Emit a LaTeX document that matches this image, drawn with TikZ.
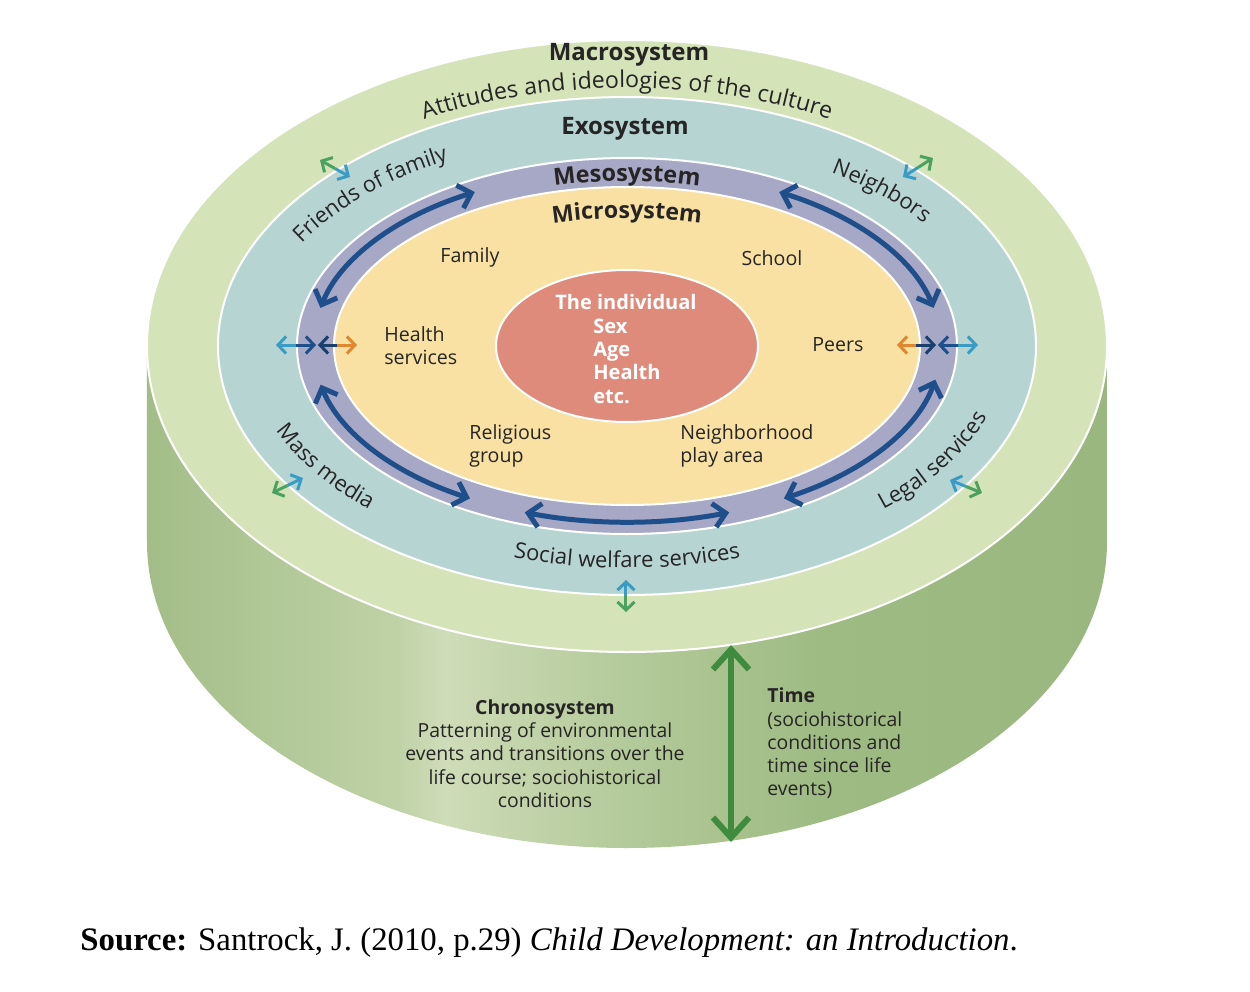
\documentclass[tikz,border=0pt]{standalone}
\usepackage{fontspec}
\setmainfont{Open Sans}
\newfontfamily\srcfont{Liberation Serif}
\usetikzlibrary{arrows.meta,decorations.text}
\definecolor{macroc}{HTML}{D5E3B9}
\definecolor{exoc}{HTML}{B6D5D2}
\definecolor{mesoc}{HTML}{A6A8C6}
\definecolor{microc}{HTML}{F8E1A2}
\definecolor{indivc}{HTML}{DF8B7B}
\definecolor{textc}{HTML}{262424}
\definecolor{arrowblue}{HTML}{1E4F8A}
\definecolor{cyanc}{HTML}{3A9CC5}
\definecolor{greenc}{HTML}{4BA15E}
\definecolor{orangec}{HTML}{E0872F}
\definecolor{chronoc}{HTML}{3F8B3F}
\definecolor{sA}{HTML}{A3BD88}
\definecolor{sB}{HTML}{BFD2A6}
\definecolor{sL}{HTML}{CFDCB9}
\definecolor{sLL}{HTML}{C8D8B1}
\definecolor{sC}{HTML}{B3CA9A}
\definecolor{sD}{HTML}{9FBB84}
\definecolor{sE}{HTML}{99B77E}
\pgfdeclarehorizontalshading{cylside}{100bp}{color(0bp)=(sA); color(25bp)=(sA); color(38bp)=(sB); color(40.5bp)=(sL); color(42.5bp)=(sLL); color(50bp)=(sC); color(60bp)=(sD); color(75bp)=(sE); color(100bp)=(sE)}
\begin{document}
\begin{tikzpicture}[x=0.5pt,y=0.5pt,
  ring/.style={draw=white,line width=1pt},
  title/.style={text=textc,font=\bfseries\fontsize{12}{14}\selectfont,inner sep=0pt},
  lbl/.style={text=textc,font=\fontsize{9.8}{11.5}\selectfont,inner sep=0pt},
  indivtxt/.style={text=white,font=\bfseries\fontsize{10}{11.7}\selectfont,inner sep=0pt},
  chrono/.style={text=textc,font=\fontsize{9.7}{11.65}\selectfont,inner sep=0pt},
  mesoarrow/.style={draw=arrowblue,line width=2.5pt,{Straight Barb[length=6pt,width=12pt]}-{Straight Barb[length=6pt,width=12pt]}},
  smallarrow/.style={line width=1.5pt,-{Straight Barb[length=4pt,width=8.5pt]}},
  bigarrow/.style={draw=chronoc,line width=3pt,{Straight Barb[length=10pt,width=18pt]}-{Straight Barb[length=10pt,width=18pt]}}
]
\useasboundingbox (-627,-646) rectangle (623,346);
\fill[white] (-627,-646) rectangle (623,346);
% cylinder side
\shade[shading=cylside] (-480,0) -- (-480,-196) arc[start angle=180,end angle=360,x radius=480,y radius=306] -- (480,0) -- cycle;
% rings
\filldraw[ring,fill=macroc] (0,0) ellipse[x radius=480,y radius=306];
\filldraw[ring,fill=exoc] (0,0) ellipse[x radius=409,y radius=249];
\filldraw[ring,fill=mesoc] (0,0) ellipse[x radius=330,y radius=188];
\filldraw[ring,fill=microc] (0,0) ellipse[x radius=293,y radius=159];
\filldraw[ring,fill=indivc] (0,0) ellipse[x radius=131,y radius=76];
% titles
\node[title] (macro) at (2,291) {Macrosystem};
\node[title] (exo) at (-2,217) {Exosystem};
\path[decorate,decoration={text along path,text align=center,text color=textc,
  text={|\bfseries\fontsize{11.7}{14}\selectfont|Mesosystem}}]
  (120:300 and 165) arc[start angle=120,end angle=60,x radius=300,y radius=165];
\path[decorate,decoration={text along path,text align=center,text color=textc,
  text={|\bfseries\fontsize{11.6}{14}\selectfont|Microsystem}}]
  (120:260 and 128) arc[start angle=120,end angle=60,x radius=260,y radius=128];
% curved labels
\path[decorate,decoration={text along path,text align=center,text color=textc,
  text={|\fontsize{11.6}{13}\selectfont|Attitudes and ideologies of the culture}}]
  (165:425 and 258) arc[start angle=165,end angle=15,x radius=425,y radius=258];
\path[decorate,decoration={text along path,text align=center,text color=textc,
  text={|\fontsize{11}{13}\selectfont|Friends of family}}]
  (170:372 and 212) arc[start angle=170,end angle=106,x radius=372,y radius=212];
\path[decorate,decoration={text along path,text align=center,text color=textc,
  text={|\fontsize{11}{13}\selectfont|Neighbors}}]
  (74:368 and 208) arc[start angle=74,end angle=11,x radius=368,y radius=208];
\path[decorate,decoration={text along path,text align=center,text color=textc,
  text={|\fontsize{11}{13}\selectfont|Mass media}}]
  (189:380 and 222) arc[start angle=189,end angle=237,x radius=380,y radius=222];
\path[decorate,decoration={text along path,text align=center,text color=textc,
  text={|\fontsize{11}{13}\selectfont|Legal services}}]
  (304.5:380 and 222) arc[start angle=304.5,end angle=352.5,x radius=380,y radius=222];
\path[decorate,decoration={text along path,text align=center,text color=textc,
  text={|\fontsize{11}{13}\selectfont|Social welfare services}}]
  (240:380 and 222) arc[start angle=240,end angle=300,x radius=380,y radius=222];
% microsystem labels
\node[lbl] (family) at (-157,89) {Family};
\node[lbl] (school) at (145,88) {School};
\node[lbl,anchor=west,align=left] (health) at (-243,0) {Health\\services};
\node[lbl] (peers) at (211,1) {Peers};
\node[lbl,anchor=west,align=left] (relig) at (-158,-100) {Religious\\group};
\node[lbl,anchor=west,align=left] (neigh) at (53,-99.5) {Neighborhood\\play area};
% individual
\node[indivtxt] (indT) at (-1,44) {The individual};
\node[indivtxt,anchor=west,align=left] (indL) at (-34,-15) {Sex\\Age\\Health\\etc.};
% mesosystem arrows
\coordinate (m1) at (119:314 and 176);
\coordinate (m2) at (61:314 and 176);
\coordinate (m3) at (192.7:314 and 176);
\coordinate (m4) at (251:314 and 176);
\coordinate (m5) at (300:314 and 176);
\draw[mesoarrow] (m1) arc[start angle=119,end angle=167.5,x radius=314,y radius=176];
\draw[mesoarrow] (m2) arc[start angle=61,end angle=12.5,x radius=314,y radius=176];
\draw[mesoarrow] (m3) arc[start angle=192.7,end angle=240,x radius=314,y radius=176];
\draw[mesoarrow] (m4) arc[start angle=251,end angle=289,x radius=314,y radius=176];
\draw[mesoarrow] (m5) arc[start angle=300,end angle=349,x radius=314,y radius=176];
% horizontal arrows left
\coordinate (hl1) at (-351,1); \coordinate (hl1m) at (-331,1); \coordinate (hl2) at (-311,1);
\coordinate (hl3) at (-309,1); \coordinate (hl3m) at (-289.5,1); \coordinate (hl4) at (-270,1);
\draw[smallarrow,cyanc] (hl1m) -- (hl1);
\draw[smallarrow,arrowblue] (hl1m) -- (hl2);
\draw[smallarrow,arrowblue!80!black] (hl3m) -- (hl3);
\draw[smallarrow,orangec] (hl3m) -- (hl4);
% horizontal arrows right
\coordinate (hr1) at (270,1); \coordinate (hr1m) at (289.5,1); \coordinate (hr2) at (309,1);
\coordinate (hr3) at (311,1); \coordinate (hr3m) at (331,1); \coordinate (hr4) at (351,1);
\draw[smallarrow,orangec] (hr1m) -- (hr1);
\draw[smallarrow,arrowblue!80!black] (hr1m) -- (hr2);
\draw[smallarrow,arrowblue] (hr3m) -- (hr3);
\draw[smallarrow,cyanc] (hr3m) -- (hr4);
% exo-macro arrows
\coordinate (a1c) at (-277,169); \coordinate (a1g) at (-307,186);
\coordinate (a2c) at (276,169); \coordinate (a2g) at (306,188);
\coordinate (a3c) at (-324,-132); \coordinate (a3g) at (-355,-147);
\coordinate (a4c) at (323,-134); \coordinate (a4g) at (355,-147);
\coordinate (a5c) at (-1,-234); \coordinate (a5g) at (-1,-266);
\coordinate (a1m) at (-292,177.5);
\coordinate (a2m) at (291,178.5);
\coordinate (a3m) at (-339.5,-139.5);
\coordinate (a4m) at (339,-140.5);
\coordinate (a5m) at (-1,-250);
\foreach \k in {1,...,5}{
  \draw[smallarrow,cyanc] (a\k m) -- (a\k c);
  \draw[smallarrow,greenc] (a\k m) -- (a\k g);
}
% chronosystem
\coordinate (ct) at (104,-299);
\coordinate (cb) at (104,-496);
\draw[bigarrow] (ct) -- (cb);
\node[chrono,align=center] (chronotxt) at (-82,-407.5) {\textbf{Chronosystem}\\Patterning of environmental\\events and transitions over the\\life course; sociohistorical\\conditions};
\node[chrono,anchor=west,align=left] (timetxt) at (140,-397.5) {\textbf{Time}\\(sociohistorical\\conditions and\\time since life\\events)};
% source
\node[anchor=base west,inner sep=0pt,font=\srcfont\fontsize{16.4}{19}\selectfont] (src) at (-547,-604) {\textbf{Source:} Santrock, J. (2010, p.29) \textit{Child Development: an Introduction}.};
\end{tikzpicture}
\end{document}
